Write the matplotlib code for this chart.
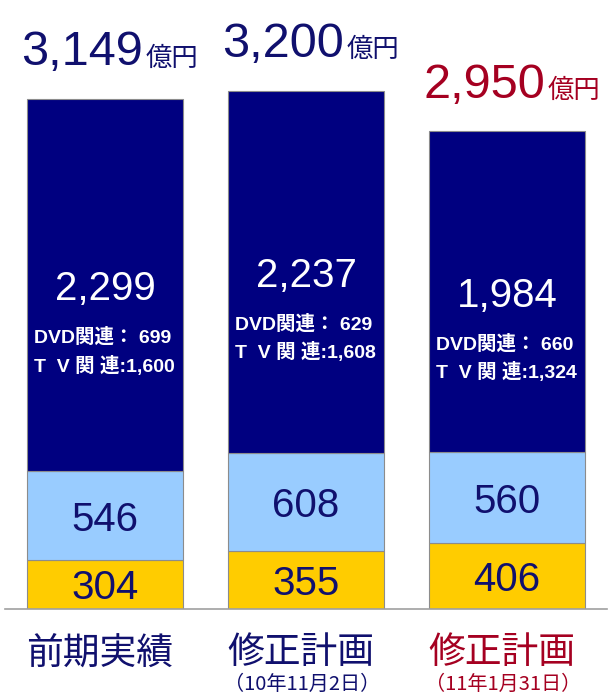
import matplotlib
matplotlib.use("Agg")
import matplotlib.pyplot as plt
import numpy as np

plt.rcParams['font.family'] = ['Liberation Sans', 'Noto Sans CJK JP', 'DejaVu Sans']

categories = ["前期実績", "修正計画", "修正計画"]
sub_labels = ["", "（10年11月2日）", "（11年1月31日）"]
bottom_vals = [304, 355, 406]
middle_vals = [546, 608, 560]
top_vals = [2299, 2237, 1984]
totals = ["3,149", "3,200", "2,950"]
dvd_vals = ["699", "629", "660"]
tv_vals = ["1,600", "1,608", "1,324"]

NAVY = "#000080"
LIGHT = "#99CCFF"
GOLD = "#FFCC00"
TXT = "#10106E"
RED = "#A50021"
label_colors = [TXT, TXT, RED]

fig = plt.figure(figsize=(6.11, 6.93), dpi=100)
ax = fig.add_axes([0, 84 / 693, 1, 609 / 693])
ax.set_xlim(-0.522, 2.517)
ax.set_ylim(0, 3759)
ax.axis("off")

x = np.arange(len(categories))
W = 0.776
bot = np.array(bottom_vals)
mid = np.array(middle_vals)
top = np.array(top_vals)

ax.bar(x, bot, W, color=GOLD, edgecolor="#8C8C8C", linewidth=0.8)
ax.bar(x, mid, W, bottom=bot, color=LIGHT, edgecolor="#8C8C8C", linewidth=0.8)
ax.bar(x, top, W, bottom=bot + mid, color=NAVY, edgecolor="#8C8C8C", linewidth=0.8)
ax.axhline(0, xmin=5 / 611, xmax=607 / 611, color="#A0A0A0", linewidth=1.2, clip_on=False)

for i in range(len(x)):
    # segment values
    ax.text(x[i], bot[i] / 2, str(bottom_vals[i]), ha="center", va="center_baseline",
            fontsize=29, color=TXT)
    ax.text(x[i], bot[i] + mid[i] / 2, str(middle_vals[i]), ha="center", va="center_baseline",
            fontsize=29, color=TXT)
    ymid = bot[i] + mid[i] + top[i] / 2
    ax.text(x[i], ymid, "{:,}".format(top_vals[i]), ha="center", va="center_baseline",
            fontsize=29, color="white")
    xl = x[i] - W / 2 + 7 / 201
    ax.annotate("DVD関連： " + dvd_vals[i], (xl, ymid), xytext=(0, -36), textcoords="offset points",
                ha="left", va="center_baseline", fontsize=14, fontweight="bold", color="white")
    ax.annotate("T  V 関 連:" + tv_vals[i], (xl, ymid), xytext=(0, -56.5), textcoords="offset points",
                ha="left", va="center_baseline", fontsize=14, fontweight="bold", color="white")

    # totals above bars
    c = label_colors[i] if i == 2 else TXT
    tot = bot[i] + mid[i] + top[i]
    ax.annotate(totals[i], (x[i] + 0.19, tot), xytext=(0, 24), textcoords="offset points",
                ha="right", va="baseline", fontsize=35, color=c)
    ax.annotate("億円", (x[i] + 0.19, tot), xytext=(1.5, 24), textcoords="offset points",
                ha="left", va="baseline", fontsize=19, color=c)

    # category labels
    ax.annotate(categories[i], (x[i] - 0.025, 0), xytext=(0, -31.5), textcoords="offset points",
                ha="center", va="center", fontsize=26.5, color=label_colors[i],
                family=["Noto Sans CJK JP"], annotation_clip=False)
    if sub_labels[i]:
        ax.annotate(sub_labels[i], (x[i] - 0.02, 0), xytext=(0, -54), textcoords="offset points",
                    ha="center", va="center", fontsize=14.5, color=label_colors[i],
                    family=["Noto Sans CJK JP"], annotation_clip=False)

fig.savefig("out.png", dpi=100)
